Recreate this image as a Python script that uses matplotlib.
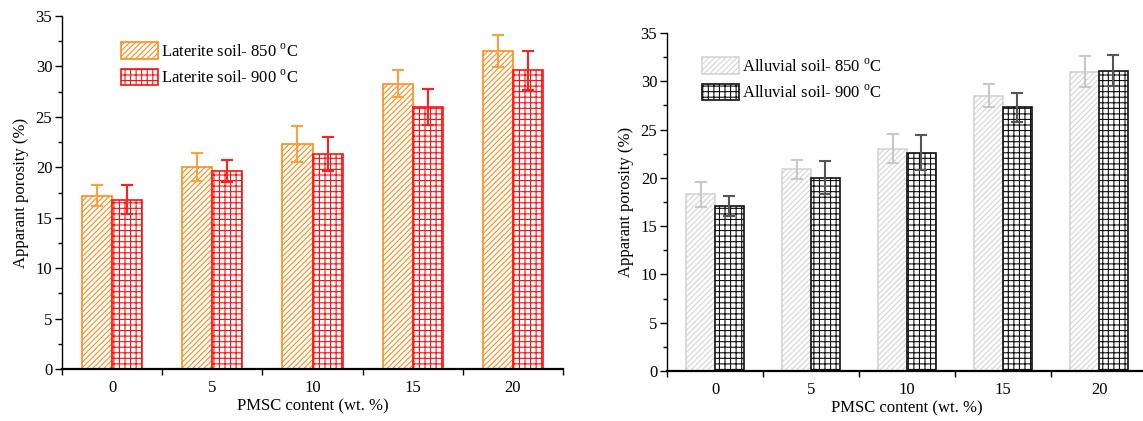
import matplotlib
matplotlib.use("Agg")
import matplotlib.pyplot as plt
import numpy as np

# ---- data ----
pmsc = [0, 5, 10, 15, 20]
tick_labels = ["0", "5", "10", "15", "20"]

lat_850 = [17.2, 20.0, 22.3, 28.3, 31.5]
lat_850_err = [1.0, 1.4, 1.8, 1.3, 1.6]
lat_900 = [16.8, 19.6, 21.3, 26.0, 29.6]
lat_900_err = [1.4, 1.1, 1.7, 1.8, 1.9]

all_850 = [18.3, 20.9, 23.0, 28.5, 31.0]
all_850_err = [1.3, 1.0, 1.5, 1.2, 1.6]
all_900 = [17.1, 20.0, 22.6, 27.3, 31.1]
all_900_err = [1.0, 1.7, 1.8, 1.5, 1.6]

lat_labels = ["Laterite soil- 850 $^{\\mathrm{o}}$C", "Laterite soil- 900 $^{\\mathrm{o}}$C"]
all_labels = ["Alluvial soil- 850 $^{\\mathrm{o}}$C", "Alluvial soil- 900 $^{\\mathrm{o}}$C"]

plt.rcParams['font.family'] = ['Liberation Serif', 'DejaVu Serif']
plt.rcParams['mathtext.fontset'] = 'custom'
plt.rcParams['mathtext.rm'] = 'Liberation Serif'
plt.rcParams['hatch.linewidth'] = 0.8

FS = 12

fig = plt.figure(figsize=(11.43, 4.21), dpi=100)

def panel(pos, v1, e1, v2, e2, labels, c1, ec1, h1, c2, ec2, h2, leg_xy):
    ax = fig.add_axes(pos)
    x = np.array(pmsc, dtype=float)
    w = 1.5
    b1 = ax.bar(x - w / 2, v1, width=w, facecolor='white', edgecolor=c1,
                hatch=h1, linewidth=1.2, label=labels[0], zorder=2)
    b2 = ax.bar(x + w / 2, v2, width=w, facecolor='white', edgecolor=c2,
                hatch=h2, linewidth=1.2, label=labels[1], zorder=2)
    ax.errorbar(x - w / 2, v1, yerr=e1, fmt='none', ecolor=ec1, elinewidth=1.5,
                capsize=4, capthick=1.5, zorder=3)
    ax.errorbar(x + w / 2, v2, yerr=e2, fmt='none', ecolor=ec2, elinewidth=1.5,
                capsize=4, capthick=1.5, zorder=3)
    ax.set_xlim(-2.5, 22.5)
    ax.set_ylim(0, 35)
    ax.set_xticks(pmsc)
    ax.set_xticklabels(tick_labels)
    ax.set_xticks([-2.5, 2.5, 7.5, 12.5, 17.5, 22.5], minor=True)
    ax.set_yticks(np.arange(0, 36, 5))
    ax.set_yticks(np.arange(2.5, 35, 5), minor=True)
    ax.tick_params(axis='x', which='major', length=0, pad=8, labelsize=FS)
    ax.tick_params(axis='x', which='minor', length=4, width=1, direction='out')
    ax.tick_params(axis='y', which='major', length=5, width=1, direction='out', labelsize=FS, pad=2)
    ax.tick_params(axis='y', which='minor', length=3, width=1, direction='out')
    for s in ['top', 'right']:
        ax.spines[s].set_visible(False)
    ax.spines['bottom'].set_linewidth(1.6)
    ax.spines['left'].set_linewidth(1.0)
    ax.set_xlabel("PMSC content (wt. %)", fontsize=FS, labelpad=2)
    ax.set_ylabel("Apparant porosity (%)", fontsize=FS, labelpad=5)
    ax.legend(handles=[b1, b2], loc='upper left', bbox_to_anchor=leg_xy,
              frameon=False, fontsize=FS, handlelength=2.2, handleheight=1.15,
              handletextpad=0.2, labelspacing=0.5, borderpad=0, borderaxespad=0)
    return ax

panel([62 / 1143, 1 - 369 / 421, 501 / 1143, 353 / 421],
      lat_850, lat_850_err, lat_900, lat_900_err, lat_labels,
      '#ff8c1a', '#ffa040', '//////', '#ff1010', '#ff2020', '+++',
      (0.118, 0.925))

panel([667 / 1143, 1 - 371 / 421, 480 / 1143, 338 / 421],
      all_850, all_850_err, all_900, all_900_err, all_labels,
      '#d4d4d4', '#c8c8c8', '//////', '#111111', '#555555', '+++',
      (0.073, 0.928))

fig.savefig("out.png", dpi=100)
